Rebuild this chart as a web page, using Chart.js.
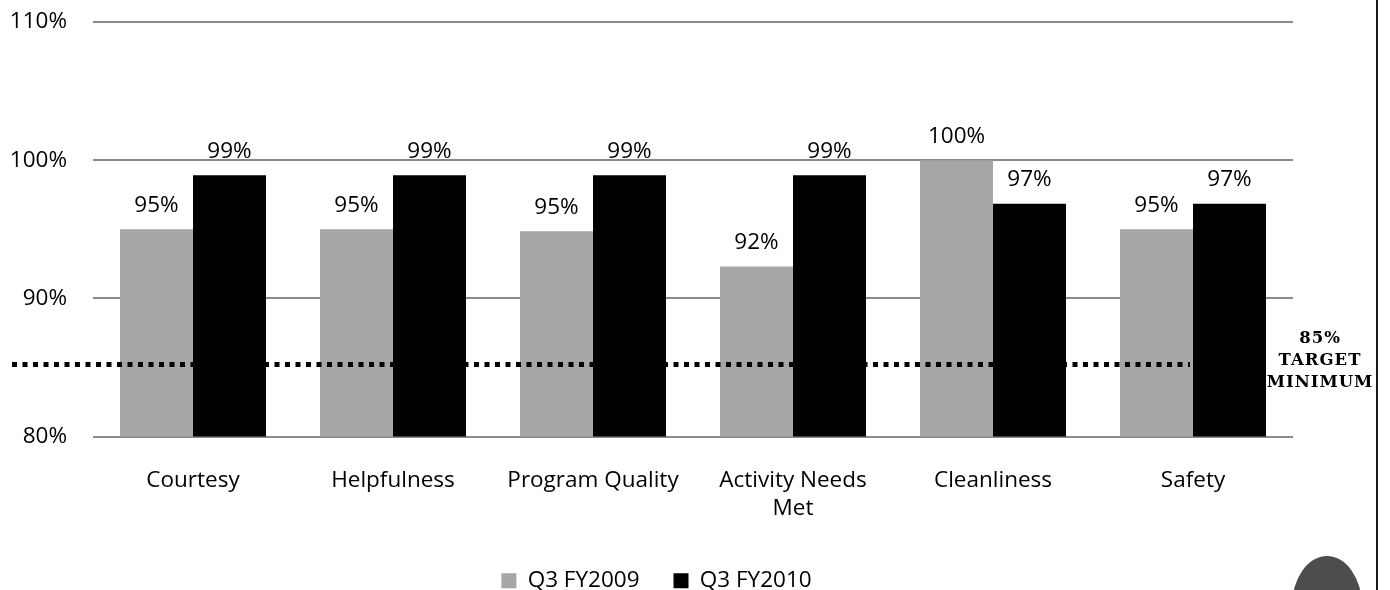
<!DOCTYPE html>
<html><head><meta charset="utf-8">
<script src="https://cdn.jsdelivr.net/npm/chart.js@4.4.1/dist/chart.umd.min.js"></script>
<style>
html,body{margin:0;padding:0;background:#fff;}
#wrap{position:relative;width:1390px;height:590px;overflow:hidden;}
#edge{position:absolute;left:1376px;top:0;width:2px;height:590px;background:#1a1a1a;}
#blob{position:absolute;left:1292px;top:556px;width:70px;height:100px;border-radius:50%;background:#4d4d4d;}
</style></head><body>
<div id="wrap"><canvas id="c" width="1390" height="590"></canvas><div id="edge"></div><div id="blob"></div></div>
<script>
const categories = ['Courtesy', 'Helpfulness', 'Program Quality', ['Activity Needs', 'Met'], 'Cleanliness', 'Safety'];
const seriesNames = ['Q3 FY2009', 'Q3 FY2010'];
const fy2009 = [95, 95, 94.85, 92.3, 100, 95];
const fy2010 = [98.9, 98.9, 98.9, 98.9, 96.85, 96.85];
const yTicks = [80, 90, 100, 110];
const targetValue = 85;
const targetLabel = ['85%', 'TARGET', 'MINIMUM'];

const FONT = '"Open Sans", sans-serif';
const FS = 22.5;

const valueLabels = {
  id: 'valueLabels',
  afterDatasetsDraw(chart) {
    const ctx = chart.ctx;
    ctx.save();
    ctx.font = FS + 'px ' + FONT;
    ctx.fillStyle = '#000';
    ctx.textAlign = 'center';
    ctx.textBaseline = 'middle';
    chart.data.datasets.forEach((ds, di) => {
      chart.getDatasetMeta(di).data.forEach((bar, i) => {
        ctx.fillText(Math.round(ds.data[i]) + '%', bar.x, bar.y - 24);
      });
    });
    ctx.restore();
  }
};

const targetLine = {
  id: 'targetLine',
  afterDatasetsDraw(chart) {
    const ctx = chart.ctx;
    const y = chart.scales.y.getPixelForValue(targetValue);
    const xEnd = chart.scales.x.getPixelForValue(categories.length - 1);
    const area = chart.chartArea;
    ctx.save();
    ctx.strokeStyle = '#000';
    ctx.lineWidth = 5;
    ctx.setLineDash([5, 5.5]);
    ctx.beginPath();
    ctx.moveTo(12, y - 3);
    ctx.lineTo(xEnd - 3, y - 3);
    ctx.stroke();
    ctx.setLineDash([]);
    ctx.font = 'bold 16.5px "DejaVu Serif", serif';
    if ('letterSpacing' in ctx) ctx.letterSpacing = '1px';
    ctx.fillStyle = '#000';
    ctx.textAlign = 'center';
    ctx.textBaseline = 'middle';
    const cx = area.right + 27;
    targetLabel.forEach((t, i) => ctx.fillText(t, cx, y - 29 + i * 22));
    ctx.restore();
  }
};

new Chart(document.getElementById('c'), {
  type: 'bar',
  data: {
    labels: categories,
    datasets: [
      { label: seriesNames[0], data: fy2009, backgroundColor: '#a6a6a6', borderWidth: 0 },
      { label: seriesNames[1], data: fy2010, backgroundColor: '#000000', borderWidth: 0 }
    ]
  },
  options: {
    responsive: false,
    animation: false,
    devicePixelRatio: 1,
    layout: { padding: { top: 22, right: 77, left: 0, bottom: -12 } },
    datasets: { bar: { categoryPercentage: 0.73, barPercentage: 1 } },
    scales: {
      x: {
        grid: { display: false },
        border: { display: false },
        ticks: { color: '#000', font: { family: FONT, size: FS, lineHeight: 1.25 }, padding: 22, maxRotation: 0, autoSkip: false },
        afterFit(s) { s.height = 99; }
      },
      y: {
        min: 80, max: 110,
        afterBuildTicks(s) { s.ticks = yTicks.map(v => ({ value: v })); },
        grid: { color: '#898989', lineWidth: 2, drawTicks: false },
        border: { display: false },
        ticks: { color: '#000', font: { family: FONT, size: FS }, padding: 26, callback: v => v + '%' },
        afterFit(s) { s.width = 93; s.paddingTop = 0; s.paddingBottom = 0; }
      },
      y2: {
        position: 'right',
        grid: { display: false, drawTicks: false },
        border: { display: false },
        ticks: { display: false },
        afterFit(s) { s.width = 20; s.paddingTop = 0; s.paddingBottom = 0; }
      }
    },
    plugins: {
      legend: {
        position: 'bottom',
        labels: { color: '#000', font: { family: FONT, size: FS }, boxWidth: 15, boxHeight: 15, padding: 34 }
      },
      tooltip: { enabled: false }
    }
  },
  plugins: [valueLabels, targetLine]
});
</script>
</body></html>
